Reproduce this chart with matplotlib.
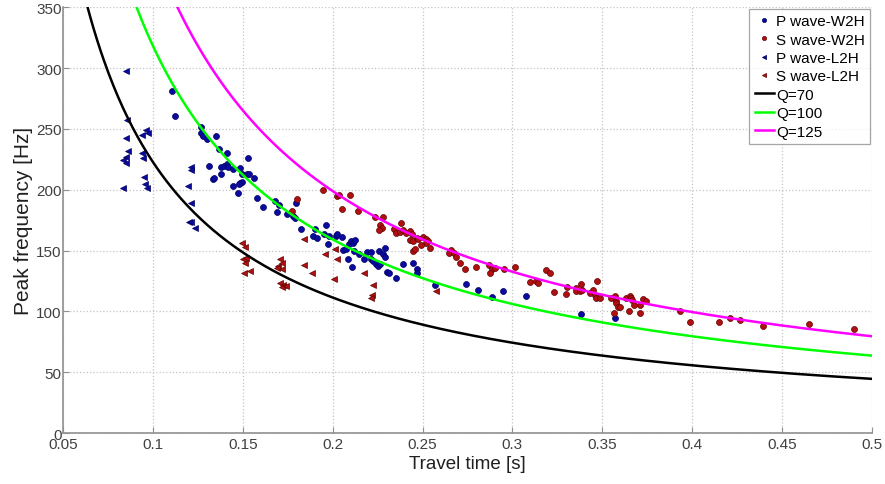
import numpy as np
import matplotlib
matplotlib.use("Agg")
import matplotlib.pyplot as plt

plt.rcParams['font.family'] = ['Liberation Sans', 'DejaVu Sans']

# P wave - W2H  (travel time [s], peak frequency [Hz])
p_w2h_t = [0.1106, 0.1124, 0.1267, 0.1269, 0.1277, 0.1302, 0.1351, 0.1367, 0.1410, 0.1530,
           0.1313, 0.1379, 0.1395, 0.1410, 0.1419, 0.1447, 0.1486, 0.1494, 0.1521, 0.1536,
           0.1564, 0.1336, 0.1341, 0.1380, 0.1486, 0.1494, 0.1479, 0.1447, 0.1475, 0.1577,
           0.1614, 0.1680, 0.1691, 0.1703, 0.1744, 0.1780, 0.1790, 0.1795, 0.1822, 0.1901,
           0.1892, 0.1914, 0.1962, 0.1951, 0.1981, 0.1975, 0.2018, 0.2025, 0.2050, 0.2058,
           0.2077, 0.2092, 0.2100, 0.2114, 0.2124, 0.2086, 0.2105, 0.2118, 0.2147, 0.2174,
           0.2189, 0.2216, 0.2216, 0.2225, 0.2240, 0.2253, 0.2263, 0.2259, 0.2278, 0.2290,
           0.2290, 0.2300, 0.2314, 0.2350, 0.2392, 0.2448, 0.2467, 0.2470, 0.2568, 0.2741,
           0.2809, 0.2889, 0.2945, 0.3078, 0.3384, 0.3569]
p_w2h_f = [281.0, 261.0, 251.2, 246.5, 243.8, 242.1, 243.8, 233.1, 230.6, 225.7,
           219.6, 218.3, 219.6, 221.0, 219.1, 216.9, 217.7, 212.8, 213.3, 213.3,
           210.0, 208.6, 210.0, 212.8, 205.9, 206.7, 204.5, 203.1, 197.7, 193.0,
           186.2, 190.8, 181.7, 187.2, 179.8, 178.4, 176.6, 188.9, 168.1, 167.5,
           162.0, 160.7, 170.8, 164.0, 162.0, 155.2, 162.0, 163.4, 161.2, 150.5,
           151.0, 155.2, 157.9, 156.6, 158.7, 143.4, 136.8, 149.6, 146.9, 142.8,
           148.8, 148.8, 142.8, 141.4, 139.3, 137.3, 138.7, 149.6, 146.9, 152.4,
           145.0, 132.4, 131.3, 127.2, 138.7, 139.5, 135.2, 131.3, 121.4, 122.3,
           117.6, 112.1, 116.7, 112.6, 98.1, 94.3]

# S wave - W2H
s_w2h_t = [0.1944, 0.1803, 0.1772, 0.2025, 0.2036, 0.2096, 0.2050, 0.2142, 0.2235, 0.2278,
           0.2263, 0.2272, 0.2259, 0.2383, 0.2340, 0.2355, 0.2374, 0.2392, 0.2407, 0.2433,
           0.2444, 0.2429, 0.2448, 0.2467, 0.2476, 0.2503, 0.2518, 0.2531, 0.2522, 0.2489,
           0.2541, 0.2448, 0.2457, 0.2661, 0.2648, 0.2674, 0.2685, 0.2707, 0.2739, 0.2800,
           0.2870, 0.2889, 0.2902, 0.2878, 0.2952, 0.3013, 0.3100, 0.3134, 0.3143, 0.3185,
           0.3208, 0.3230, 0.3297, 0.3304, 0.3356, 0.3352, 0.3374, 0.3380, 0.3389, 0.3430,
           0.3448, 0.3458, 0.3467, 0.3486, 0.3471, 0.3551, 0.3569, 0.3575, 0.3579, 0.3564,
           0.3588, 0.3601, 0.3634, 0.3649, 0.3652, 0.3662, 0.3667, 0.3675, 0.3708, 0.3712,
           0.3727, 0.3745, 0.3931, 0.3986, 0.4149, 0.4209, 0.4264, 0.4394, 0.4649, 0.4900]
s_w2h_f = [199.8, 192.2, 182.6, 194.9, 195.5, 195.7, 184.5, 182.6, 177.6, 178.0,
           170.8, 168.9, 166.9, 172.4, 168.1, 164.8, 165.3, 166.9, 164.8, 165.9,
           163.4, 158.7, 157.9, 160.7, 159.8, 161.2, 159.3, 157.9, 156.0, 154.3,
           152.4, 149.6, 151.0, 150.5, 148.3, 147.8, 145.0, 139.5, 135.2, 136.8,
           137.9, 135.2, 136.0, 131.9, 135.2, 136.8, 124.5, 125.0, 123.7, 134.0,
           131.3, 116.2, 114.0, 120.4, 119.5, 116.7, 116.7, 122.3, 117.6, 115.4,
           117.6, 113.5, 111.3, 110.7, 125.0, 110.7, 112.6, 108.5, 106.6, 99.0,
           103.9, 103.9, 110.7, 100.3, 112.6, 111.3, 109.3, 105.0, 105.0, 99.0,
           109.9, 108.5, 100.3, 91.6, 91.6, 94.9, 92.6, 87.9, 89.9, 85.2]

# P wave - L2H
p_l2h_t = [0.0850, 0.0858, 0.0850, 0.0961, 0.0974, 0.0938, 0.0863, 0.0850, 0.0835, 0.0850,
           0.0939, 0.0946, 0.0952, 0.0835, 0.0956, 0.0965, 0.1193, 0.1213, 0.1210, 0.1213,
           0.1200, 0.1210, 0.1232]
p_l2h_f = [297.4, 257.2, 242.6, 249.2, 246.5, 244.8, 231.7, 227.3, 224.5, 221.8,
           229.8, 225.7, 210.5, 201.8, 205.1, 201.8, 203.1, 218.3, 216.3, 189.5,
           173.8, 173.5, 168.3]

# S wave - L2H
s_l2h_t = [0.1494, 0.1512, 0.1499, 0.1518, 0.1512, 0.1506, 0.1540, 0.1707, 0.1697, 0.1716,
           0.1688, 0.1716, 0.1707, 0.1725, 0.1716, 0.1740, 0.1840, 0.1957, 0.1840, 0.1884,
           0.2012, 0.2025, 0.2008, 0.2174, 0.2222, 0.2220, 0.2216, 0.2574]
s_l2h_f = [156.6, 152.9, 143.4, 143.9, 140.1, 131.3, 132.9, 142.8, 137.3, 140.1,
           136.0, 135.2, 123.6, 121.7, 120.0, 120.8, 159.8, 147.0, 138.1, 131.9,
           151.0, 143.4, 126.9, 131.3, 121.4, 113.2, 111.3, 116.7]

# quality factors of the model curves f = Q / (pi * t)
q_values = [70, 100, 125]
q_colors = ['black', '#00ff00', '#ff00ff']

fig = plt.figure(figsize=(8.85, 4.85), dpi=100)
ax = fig.add_axes([0.0712, 0.105, 0.914, 0.878])

blue = '#0a0aa0'
red = '#b01010'
ax.plot(p_w2h_t, p_w2h_f, 'o', ms=4.3, color=blue, mec='#000060', mew=0.5, label='P wave-W2H')
ax.plot(s_w2h_t, s_w2h_f, 'o', ms=4.3, color=red, mec='#600000', mew=0.5, label='S wave-W2H')
ax.plot(p_l2h_t, p_l2h_f, '<', ms=4.3, color=blue, mec='#000060', mew=0.5, label='P wave-L2H')
ax.plot(s_l2h_t, s_l2h_f, '<', ms=4.3, color=red, mec='#600000', mew=0.5, label='S wave-L2H')

t = np.linspace(0.05, 0.5, 500)
for q, c in zip(q_values, q_colors):
    ax.plot(t, q / (np.pi * t), color=c, lw=1.8, label='Q=%d' % q)

ax.set_xlim(0.05, 0.5)
ax.set_ylim(0, 350)
ax.set_xticks(np.arange(0.05, 0.501, 0.05))
ax.set_xticklabels(['0.05', '0.1', '0.15', '0.2', '0.25', '0.3', '0.35', '0.4', '0.45', '0.5'])
ax.set_yticks(np.arange(0, 351, 50))
ax.grid(True, linestyle=':', color='#c4c4c4', linewidth=0.9)
ax.spines['top'].set_visible(False)
ax.spines['right'].set_visible(False)
for s in ['left', 'bottom']:
    ax.spines[s].set_color('#909090')
    ax.spines[s].set_linewidth(1.2)
ax.tick_params(direction='in', length=4, color='#909090', labelcolor='#404040', labelsize=11)
ax.tick_params(axis='y', pad=1)
ax.tick_params(axis='x', pad=3)

ax.set_xlabel('Travel time [s]', fontsize=13.5, labelpad=3, color='#202020')
ax.set_ylabel('Peak frequency [Hz]', fontsize=15, labelpad=2, color='#202020')

leg = ax.legend(loc='upper right', fontsize=11, handlelength=1.25, handletextpad=0.15,
                borderpad=0.35, labelspacing=0.29, fancybox=False, markerscale=0.7,
                borderaxespad=0.1, bbox_to_anchor=(1.0, 1.0))
leg.get_frame().set_edgecolor('#909090')
leg.get_frame().set_linewidth(0.9)

plt.savefig('out.png', dpi=100)
